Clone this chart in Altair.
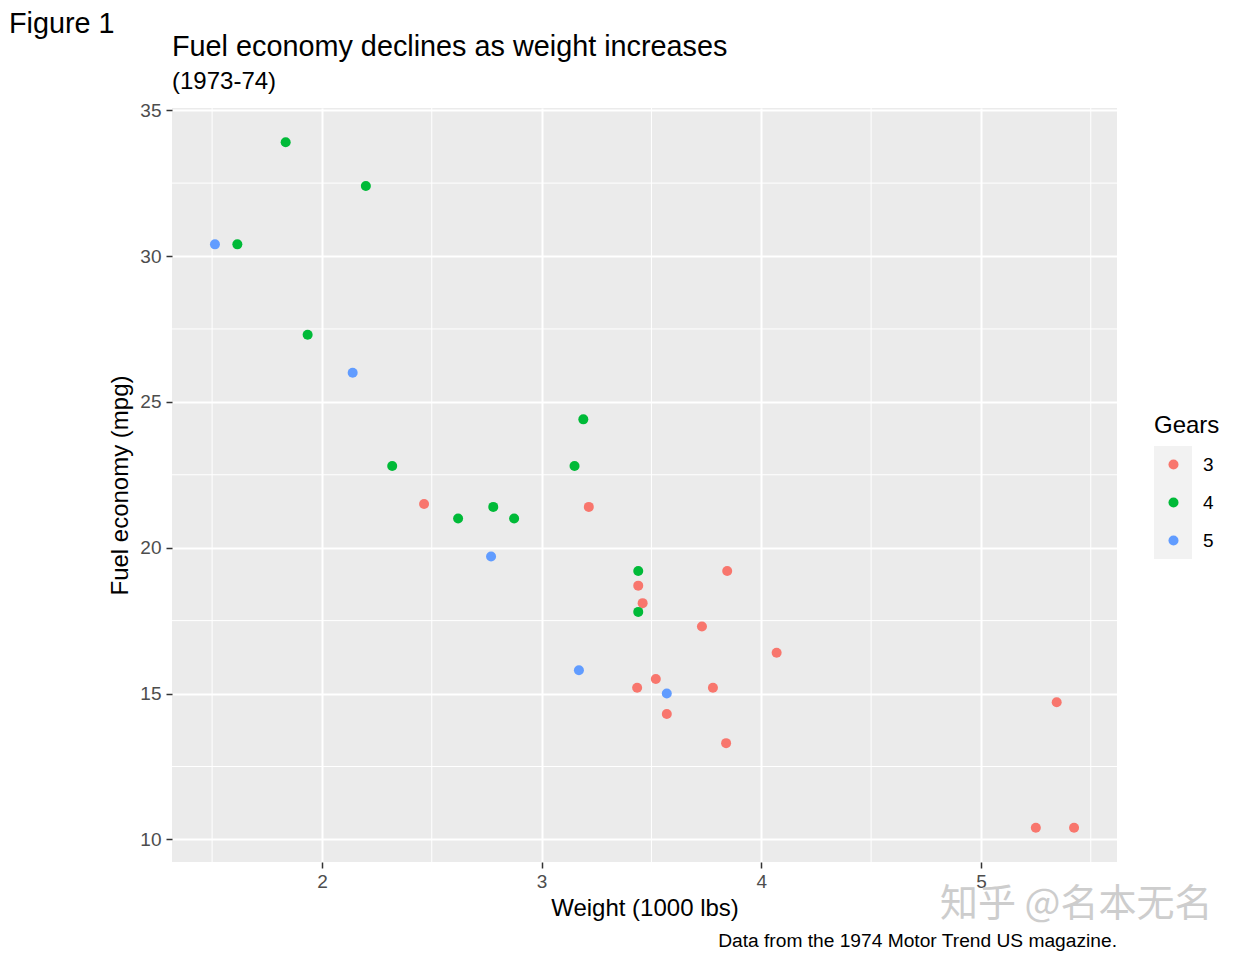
import altair as alt
import pandas as pd

# mtcars: weight (1000 lbs), mpg, gears
wt = [2.620, 2.875, 2.320, 3.215, 3.440, 3.460, 3.570, 3.190, 3.150, 3.440, 3.440,
      4.070, 3.730, 3.780, 5.250, 5.424, 5.345, 2.200, 1.615, 1.835, 2.465, 3.520,
      3.435, 3.840, 3.845, 1.935, 2.140, 1.513, 3.170, 2.770, 3.570, 2.780]
mpg = [21.0, 21.0, 22.8, 21.4, 18.7, 18.1, 14.3, 24.4, 22.8, 19.2, 17.8,
       16.4, 17.3, 15.2, 10.4, 10.4, 14.7, 32.4, 30.4, 33.9, 21.5, 15.5,
       15.2, 13.3, 19.2, 27.3, 26.0, 30.4, 15.8, 19.7, 15.0, 21.4]
gear = ["4", "4", "4", "3", "3", "3", "3", "4", "4", "4", "4",
        "3", "3", "3", "3", "3", "3", "4", "4", "4", "3", "3",
        "3", "3", "3", "4", "5", "5", "5", "5", "5", "4"]

gear_levels = ["3", "4", "5"]
gear_colors = ["#F8766D", "#00BA38", "#619CFF"]
x_major = [2, 3, 4, 5]
x_minor = [1.5, 2.5, 3.5, 4.5, 5.5]
y_major = [10, 15, 20, 25, 30, 35]
y_minor = [12.5, 17.5, 22.5, 27.5, 32.5]

fig_text = "Figure 1"
title_text = "Fuel economy declines as weight increases"
subtitle_text = "(1973-74)"
caption_text = "Data from the 1974 Motor Trend US magazine."
watermark_text = "知乎 @名本无名"

df = pd.DataFrame({"wt": wt, "mpg": mpg, "gear": gear})
W, H = 945, 754
FONT = "Liberation Sans"

xs = alt.Scale(domain=[1.3175, 5.6195], nice=False, zero=False)
ys = alt.Scale(domain=[9.225, 35.075], nice=False, zero=False)

x_axis = alt.Axis(values=x_major, title="Weight (1000 lbs)", grid=True, gridColor="white",
                  gridWidth=2, tickColor="#333333", tickSize=6, tickWidth=1.5, domain=False,
                  labelFont=FONT, labelFontSize=19, labelColor="#4D4D4D", labelPadding=4,
                  titleFont=FONT, titleFontSize=24, titleFontWeight="normal", titleColor="black",
                  titleY=46, titleBaseline="middle")
y_axis = alt.Axis(values=y_major, title="Fuel economy (mpg)", grid=True, gridColor="white",
                  gridWidth=2, tickColor="#333333", tickSize=6, tickWidth=1.5, domain=False,
                  labelFont=FONT, labelFontSize=19, labelColor="#4D4D4D", labelPadding=5,
                  titleFont=FONT, titleFontSize=24, titleFontWeight="normal", titleColor="black",
                  titleX=-52, titleY=H / 2, titleBaseline="middle")

vminor = alt.Chart(pd.DataFrame({"wt": x_minor})).mark_rule(color="white", strokeWidth=1).encode(
    x=alt.X("wt:Q", scale=xs, axis=x_axis))
hminor = alt.Chart(pd.DataFrame({"mpg": y_minor})).mark_rule(color="white", strokeWidth=1).encode(
    y=alt.Y("mpg:Q", scale=ys, axis=y_axis))

keybox = alt.Chart(pd.DataFrame({"k": [0]})).mark_rect(color="#F2F2F2").encode(
    x=alt.value(982), x2=alt.value(1020), y=alt.value(338), y2=alt.value(451))

points = alt.Chart(df).mark_circle(size=100, opacity=1).encode(
    x=alt.X("wt:Q", scale=xs, axis=x_axis),
    y=alt.Y("mpg:Q", scale=ys, axis=y_axis),
    color=alt.Color("gear:N", scale=alt.Scale(domain=gear_levels, range=gear_colors),
                    legend=alt.Legend(title="Gears", orient="none", legendX=982, legendY=306,
                                      titleFont=FONT, titleFontSize=24, titleFontWeight="normal",
                                      titleColor="black", titlePadding=17,
                                      labelFont=FONT, labelFontSize=19, labelColor="black",
                                      labelOffset=20, symbolSize=100, symbolType="circle",
                                      symbolOffset=10,
                                      symbolStrokeWidth=0, rowPadding=18, padding=0)),
)


def label(text, size, x, y, align="left", color="black", font=FONT, opacity=1.0):
    return alt.Chart(pd.DataFrame({"t": [text]})).mark_text(
        font=font, fontSize=size, align=align, baseline="middle", color=color,
        opacity=opacity).encode(text="t:N", x=alt.value(x), y=alt.value(y))


fig_label = label(fig_text, 28.8, -163, -84)
title = label(title_text, 28.8, 0, -61)
subtitle = label(subtitle_text, 24, 0, -26)
cap = label(caption_text, 19.2, W, 833, align="right")
wm = label(watermark_text, 38, 768, 797, color="#C8C8C8", font="Noto Sans CJK SC", opacity=0.9)

chart = alt.layer(vminor, hminor, keybox, points, fig_label, title, subtitle, cap, wm).properties(
    width=W, height=H,
    autosize=alt.AutoSizeParams(type="none"),
    padding={"left": 164, "top": 100, "right": 115, "bottom": 92},
).configure_view(fill="#EBEBEB", stroke=None)

chart.save("out.html", embed_options={"renderer": "svg", "actions": False})
